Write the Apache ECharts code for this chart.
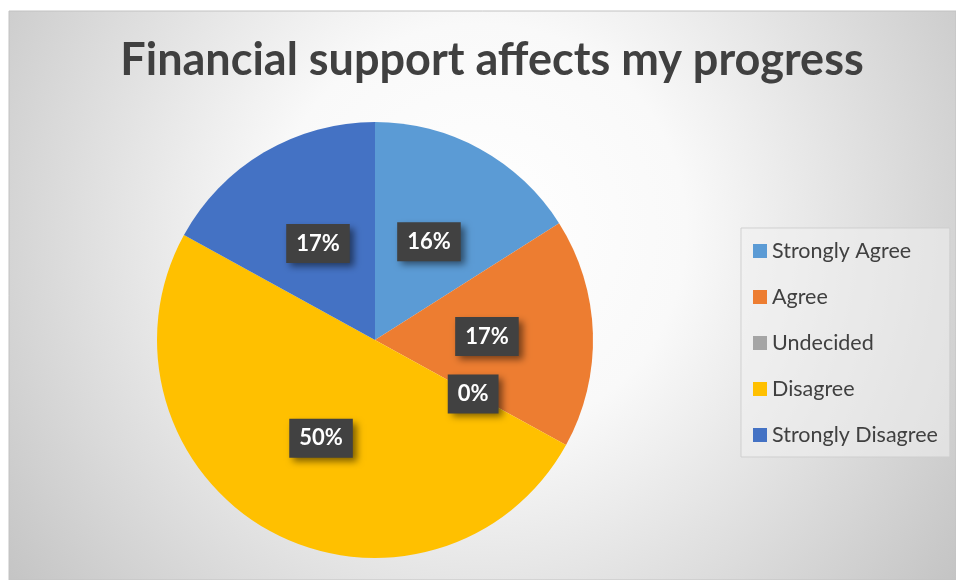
<!DOCTYPE html>
<html>
<head>
<meta charset="utf-8">
<script src="https://cdn.jsdelivr.net/npm/echarts@6/dist/echarts.min.js"></script>
<style>
  html, body { margin: 0; padding: 0; background: #ffffff; }
  #chart { width: 956px; height: 580px; }
</style>
</head>
<body>
<div id="chart"></div>
<script>
// Survey responses (percent of respondents)
const titleText = 'Financial support affects my progress';
const categories = ['Strongly Agree', 'Agree', 'Undecided', 'Disagree', 'Strongly Disagree'];
const percentages = [16, 17, 0, 50, 17];
const sliceColors = ['#5B9BD5', '#ED7D31', '#A5A5A5', '#FFC000', '#4472C4'];

const chart = echarts.init(document.getElementById('chart'), null, { renderer: 'canvas' });

const option = {
  animation: false,
  backgroundColor: '#ffffff',
  graphic: [
    {
      type: 'rect',
      z: -10,
      silent: true,
      shape: { x: 9, y: 11, width: 947, height: 569 },
      style: {
        fill: {
          type: 'radial',
          x: 480, y: 230, r: 590,
          global: true,
          colorStops: [
            { offset: 0, color: '#ffffff' },
            { offset: 0.35, color: '#f9f9f9' },
            { offset: 1, color: '#c4c4c4' }
          ]
        },
        stroke: '#c2c2c2',
        lineWidth: 1
      }
    }
  ],
  title: {
    text: titleText,
    left: 487,
    textAlign: 'center',
    top: 33,
    textStyle: {
      fontFamily: 'Lato',
      fontWeight: 'bold',
      fontSize: 45,
      color: '#404040'
    }
  },
  legend: {
    orient: 'vertical',
    left: 741,
    top: 228,
    padding: [12, 12, 11, 12],
    itemWidth: 14,
    itemHeight: 14,
    itemGap: 24,
    icon: 'rect',
    backgroundColor: 'rgba(240,240,240,0.55)',
    borderColor: 'rgba(205,205,205,0.9)',
    borderWidth: 1,
    data: categories,
    textStyle: {
      fontFamily: 'Lato',
      fontSize: 21.5,
      lineHeight: 20,
      color: '#404040'
    }
  },
  series: [
    {
      type: 'pie',
      center: [375, 340],
      radius: 218,
      startAngle: 90,
      clockwise: true,
      avoidLabelOverlap: false,
      emphasis: { disabled: true },
      itemStyle: { borderWidth: 0 },
      label: {
        show: true,
        position: 'inside',
        formatter: '{c}%',
        fontFamily: 'Lato',
        fontWeight: 'bold',
        fontSize: 22,
        lineHeight: 22,
        padding: [9, 10, 8, 10],
        color: '#ffffff',
        backgroundColor: '#414141',
        shadowColor: 'rgba(0,0,0,0.5)',
        shadowBlur: 7,
        shadowOffsetX: 4,
        shadowOffsetY: 4
      },
      labelLine: { show: false },
      data: categories.map((name, i) => ({
        name: name,
        value: percentages[i],
        itemStyle: { color: sliceColors[i] }
      }))
    }
  ]
};

chart.setOption(option);
</script>
</body>
</html>
